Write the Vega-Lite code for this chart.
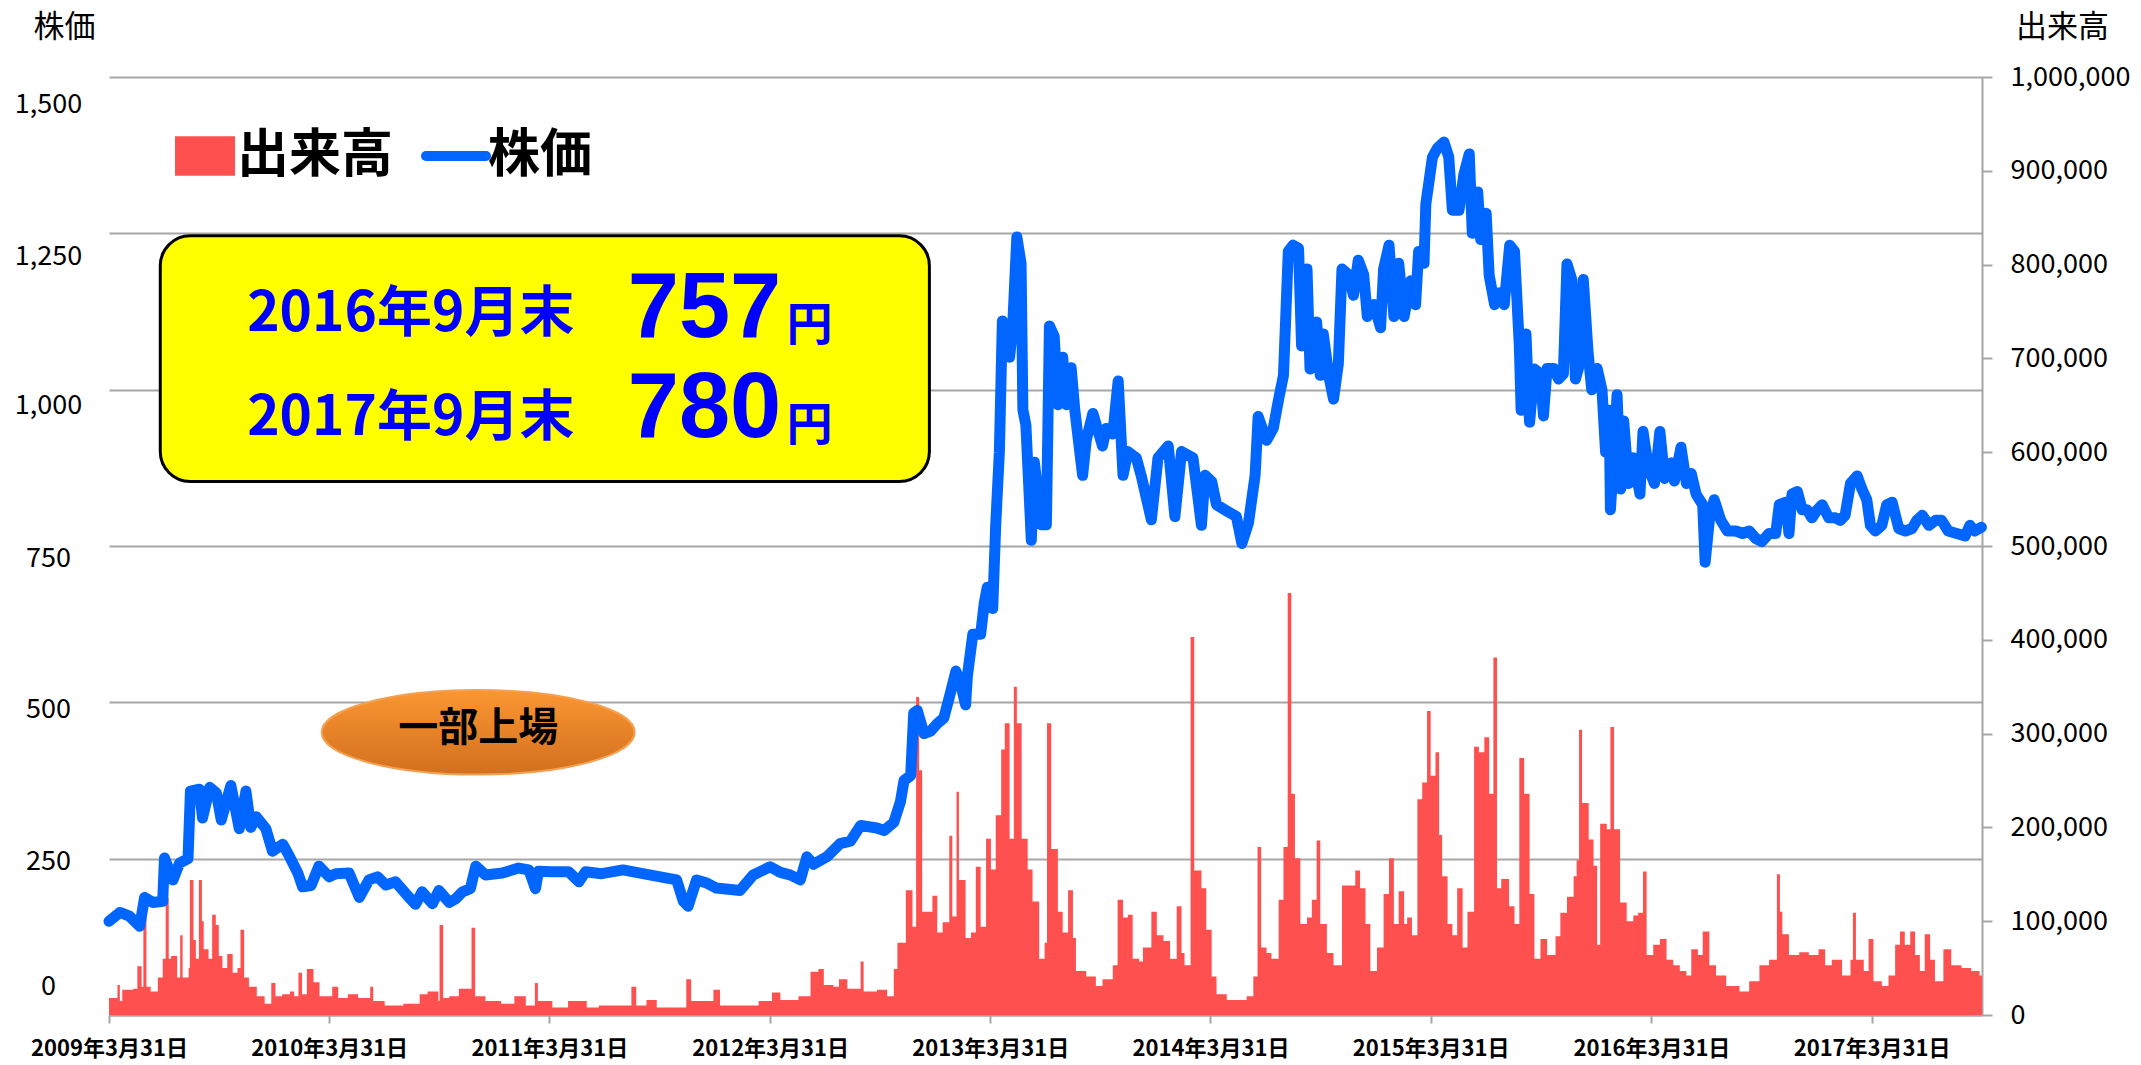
{
  "$schema": "https://vega.github.io/schema/vega-lite/v6.json",
  "width": 1873,
  "height": 938,
  "autosize": {"type": "none"},
  "padding": {"left": 109, "top": 77, "right": 159, "bottom": 50},
  "background": "white",
  "config": {"view": {"stroke": null}, "font": "Noto Sans CJK JP"},
  "datasets": {
    "price": [
      {"d":"2009-03-31","p":150},{"d":"2009-04-18","p":164},{"d":"2009-05-04","p":158},{"d":"2009-05-21","p":142},{"d":"2009-05-29","p":188},{"d":"2009-06-12","p":180},{"d":"2009-06-28","p":182},{"d":"2009-07-01","p":251},{"d":"2009-07-15","p":216},{"d":"2009-07-26","p":243},{"d":"2009-08-09","p":250},{"d":"2009-08-13","p":358},{"d":"2009-08-28","p":361},{"d":"2009-09-02","p":315},{"d":"2009-09-14","p":364},{"d":"2009-09-25","p":355},{"d":"2009-10-03","p":312},{"d":"2009-10-19","p":367},{"d":"2009-11-02","p":298},{"d":"2009-11-13","p":358},{"d":"2009-11-21","p":300},{"d":"2009-11-30","p":317},{"d":"2009-12-16","p":298},{"d":"2009-12-27","p":262},
      {"d":"2010-01-13","p":273},{"d":"2010-01-24","p":254},{"d":"2010-02-07","p":227},{"d":"2010-02-15","p":205},{"d":"2010-03-01","p":207},{"d":"2010-03-14","p":238},{"d":"2010-03-31","p":221},{"d":"2010-04-11","p":226},{"d":"2010-05-03","p":227},{"d":"2010-05-20","p":188},{"d":"2010-06-05","p":216},{"d":"2010-06-19","p":221},{"d":"2010-07-03","p":208},{"d":"2010-07-19","p":213},{"d":"2010-08-05","p":194},{"d":"2010-08-21","p":177},{"d":"2010-09-01","p":197},{"d":"2010-09-18","p":178},{"d":"2010-09-29","p":199},{"d":"2010-10-16","p":180},{"d":"2010-10-27","p":186},{"d":"2010-11-07","p":197},{"d":"2010-11-20","p":202},{"d":"2010-11-29","p":238},{"d":"2010-12-15","p":224},
      {"d":"2011-01-12","p":227},{"d":"2011-02-08","p":235},{"d":"2011-02-25","p":232},{"d":"2011-03-08","p":202},{"d":"2011-03-13","p":230},{"d":"2011-04-04","p":229},{"d":"2011-05-02","p":229},{"d":"2011-05-19","p":213},{"d":"2011-05-30","p":229},{"d":"2011-06-26","p":226},{"d":"2011-07-31","p":232},{"d":"2011-09-13","p":224},{"d":"2011-10-28","p":216},{"d":"2011-11-08","p":182},{"d":"2011-11-16","p":174},{"d":"2011-11-30","p":216},{"d":"2011-12-17","p":211},
      {"d":"2012-01-02","p":203},{"d":"2012-02-10","p":199},{"d":"2012-03-03","p":224},{"d":"2012-03-31","p":237},{"d":"2012-04-17","p":228},{"d":"2012-05-03","p":224},{"d":"2012-05-20","p":216},{"d":"2012-05-31","p":253},{"d":"2012-06-11","p":241},{"d":"2012-07-03","p":253},{"d":"2012-07-25","p":274},{"d":"2012-08-11","p":278},{"d":"2012-08-28","p":303},{"d":"2012-09-24","p":299},{"d":"2012-10-06","p":295},{"d":"2012-10-22","p":308},{"d":"2012-11-02","p":341},{"d":"2012-11-08","p":375},{"d":"2012-11-19","p":383},{"d":"2012-11-24","p":483},{"d":"2012-11-30","p":487},{"d":"2012-12-11","p":450},{"d":"2012-12-22","p":454},
      {"d":"2013-01-02","p":466},{"d":"2013-01-13","p":475},{"d":"2013-01-22","p":508},{"d":"2013-02-02","p":550},{"d":"2013-02-10","p":529},{"d":"2013-02-18","p":496},{"d":"2013-02-21","p":542},{"d":"2013-03-02","p":609},{"d":"2013-03-15","p":609},{"d":"2013-03-21","p":659},{"d":"2013-03-26","p":684},{"d":"2013-04-04","p":650},{"d":"2013-04-09","p":784},{"d":"2013-04-15","p":900},{"d":"2013-04-20","p":1110},{"d":"2013-05-02","p":1052},{"d":"2013-05-07","p":1100},{"d":"2013-05-14","p":1244},{"d":"2013-05-21","p":1202},{"d":"2013-05-24","p":968},{"d":"2013-05-29","p":943},{"d":"2013-06-07","p":759},{"d":"2013-06-12","p":884},{"d":"2013-06-18","p":834},{"d":"2013-06-23","p":784},{"d":"2013-07-02","p":784},{"d":"2013-07-07","p":1102},{"d":"2013-07-15","p":1085},{"d":"2013-07-21","p":976},{"d":"2013-07-29","p":1052},{"d":"2013-08-04","p":976},{"d":"2013-08-12","p":1035},{"d":"2013-08-18","p":968},{"d":"2013-08-31","p":863},{"d":"2013-09-06","p":919},{"d":"2013-09-17","p":962},{"d":"2013-10-03","p":910},{"d":"2013-10-09","p":938},{"d":"2013-10-20","p":929},{"d":"2013-10-29","p":1014},{"d":"2013-11-06","p":863},{"d":"2013-11-14","p":901},{"d":"2013-11-28","p":891},{"d":"2013-12-06","p":863},{"d":"2013-12-23","p":792},
      {"d":"2014-01-03","p":891},{"d":"2014-01-20","p":910},{"d":"2014-01-31","p":797},{"d":"2014-02-11","p":901},{"d":"2014-03-02","p":891},{"d":"2014-03-16","p":783},{"d":"2014-03-22","p":863},{"d":"2014-04-02","p":853},{"d":"2014-04-10","p":816},{"d":"2014-04-27","p":806},{"d":"2014-05-13","p":797},{"d":"2014-05-22","p":754},{"d":"2014-06-02","p":787},{"d":"2014-06-13","p":863},{"d":"2014-06-18","p":957},{"d":"2014-07-02","p":919},{"d":"2014-07-13","p":938},{"d":"2014-07-22","p":985},{"d":"2014-07-30","p":1023},{"d":"2014-08-07","p":1221},{"d":"2014-08-15","p":1231},{"d":"2014-08-24","p":1226},{"d":"2014-08-29","p":1070},{"d":"2014-09-07","p":1193},{"d":"2014-09-12","p":1033},{"d":"2014-09-23","p":1108},{"d":"2014-09-29","p":1023},{"d":"2014-10-04","p":1089},{"d":"2014-10-13","p":1023},{"d":"2014-10-21","p":985},{"d":"2014-10-29","p":1042},{"d":"2014-11-04","p":1193},{"d":"2014-11-15","p":1184},{"d":"2014-11-23","p":1151},{"d":"2014-12-01","p":1207},{"d":"2014-12-10","p":1184},{"d":"2014-12-16","p":1117},{"d":"2014-12-27","p":1136},
      {"d":"2015-01-07","p":1099},{"d":"2015-01-12","p":1193},{"d":"2015-01-21","p":1231},{"d":"2015-01-29","p":1117},{"d":"2015-02-06","p":1202},{"d":"2015-02-15","p":1117},{"d":"2015-02-26","p":1174},{"d":"2015-03-06","p":1136},{"d":"2015-03-11","p":1221},{"d":"2015-03-20","p":1202},{"d":"2015-03-23","p":1297},{"d":"2015-04-03","p":1372},{"d":"2015-04-11","p":1386},{"d":"2015-04-22","p":1396},{"d":"2015-04-30","p":1372},{"d":"2015-05-06","p":1287},{"d":"2015-05-17","p":1287},{"d":"2015-05-25","p":1344},{"d":"2015-06-03","p":1377},{"d":"2015-06-08","p":1250},{"d":"2015-06-17","p":1316},{"d":"2015-06-22","p":1240},{"d":"2015-07-01","p":1282},{"d":"2015-07-06","p":1183},{"d":"2015-07-15","p":1136},{"d":"2015-07-23","p":1155},{"d":"2015-07-31","p":1136},{"d":"2015-08-09","p":1231},{"d":"2015-08-17","p":1221},{"d":"2015-08-25","p":1070},{"d":"2015-08-28","p":967},{"d":"2015-09-05","p":1089},{"d":"2015-09-11","p":948},{"d":"2015-09-19","p":1033},{"d":"2015-09-29","p":1025},{"d":"2015-10-04","p":958},{"d":"2015-10-10","p":1034},{"d":"2015-10-21","p":1034},{"d":"2015-10-29","p":1017},{"d":"2015-11-06","p":1025},{"d":"2015-11-12","p":1201},{"d":"2015-11-20","p":1176},{"d":"2015-11-26","p":1017},{"d":"2015-12-01","p":1034},{"d":"2015-12-09","p":1176},{"d":"2015-12-17","p":1059},{"d":"2015-12-23","p":1000},
      {"d":"2016-01-01","p":1034},{"d":"2016-01-09","p":1000},{"d":"2016-01-15","p":900},{"d":"2016-01-21","p":967},{"d":"2016-01-23","p":808},{"d":"2016-01-29","p":900},{"d":"2016-02-03","p":992},{"d":"2016-02-09","p":841},{"d":"2016-02-14","p":950},{"d":"2016-02-22","p":850},{"d":"2016-03-01","p":891},{"d":"2016-03-12","p":833},{"d":"2016-03-17","p":933},{"d":"2016-03-26","p":875},{"d":"2016-04-05","p":850},{"d":"2016-04-14","p":933},{"d":"2016-04-22","p":858},{"d":"2016-05-03","p":883},{"d":"2016-05-08","p":854},{"d":"2016-05-19","p":908},{"d":"2016-05-28","p":850},{"d":"2016-06-05","p":866},{"d":"2016-06-13","p":833},{"d":"2016-06-24","p":816},{"d":"2016-06-28","p":724},{"d":"2016-07-05","p":791},{"d":"2016-07-13","p":824},{"d":"2016-07-24","p":791},{"d":"2016-08-04","p":774},{"d":"2016-08-18","p":774},{"d":"2016-08-29","p":770},{"d":"2016-09-09","p":774},{"d":"2016-09-20","p":762},{"d":"2016-09-30","p":757},{"d":"2016-10-12","p":770},{"d":"2016-10-23","p":770},{"d":"2016-10-29","p":816},{"d":"2016-11-09","p":820},{"d":"2016-11-14","p":770},{"d":"2016-11-19","p":833},{"d":"2016-11-28","p":837},{"d":"2016-12-06","p":808},{"d":"2016-12-14","p":808},{"d":"2016-12-22","p":795},{"d":"2016-12-31","p":808},
      {"d":"2017-01-08","p":816},{"d":"2017-01-19","p":795},{"d":"2017-01-30","p":795},{"d":"2017-02-07","p":791},{"d":"2017-02-15","p":799},{"d":"2017-02-24","p":850},{"d":"2017-03-07","p":862},{"d":"2017-03-15","p":841},{"d":"2017-03-23","p":824},{"d":"2017-03-29","p":783},{"d":"2017-04-06","p":774},{"d":"2017-04-17","p":783},{"d":"2017-04-25","p":816},{"d":"2017-05-04","p":820},{"d":"2017-05-15","p":778},{"d":"2017-05-26","p":774},{"d":"2017-06-06","p":778},{"d":"2017-06-14","p":791},{"d":"2017-06-23","p":799},{"d":"2017-07-04","p":783},{"d":"2017-07-15","p":791},{"d":"2017-07-25","p":791},{"d":"2017-08-05","p":774},{"d":"2017-08-19","p":770},{"d":"2017-09-02","p":766},{"d":"2017-09-10","p":783},{"d":"2017-09-18","p":774},{"d":"2017-09-29","p":780}
    ],
    "volume": [
      {"d":"2009-03-31","v":18000},{"d":"2009-04-14","v":32000},{"d":"2009-04-18","v":15000},{"d":"2009-04-22","v":27000},{"d":"2009-05-10","v":28000},{"d":"2009-05-17","v":52000},{"d":"2009-05-24","v":30000},{"d":"2009-05-27","v":110000},{"d":"2009-06-01","v":30000},{"d":"2009-06-08","v":25000},{"d":"2009-06-20","v":40000},{"d":"2009-06-28","v":60000},{"d":"2009-07-03","v":125000},{"d":"2009-07-08","v":60000},{"d":"2009-07-12","v":63000},{"d":"2009-07-22","v":40000},{"d":"2009-07-27","v":85000},{"d":"2009-07-31","v":40000},{"d":"2009-08-10","v":50000},{"d":"2009-08-12","v":144000},{"d":"2009-08-18","v":80000},{"d":"2009-08-22","v":60000},{"d":"2009-08-27","v":144000},{"d":"2009-09-01","v":100000},{"d":"2009-09-04","v":70000},{"d":"2009-09-12","v":60000},{"d":"2009-09-18","v":107000},{"d":"2009-09-24","v":96000},{"d":"2009-09-29","v":63000},{"d":"2009-10-05","v":50000},{"d":"2009-10-13","v":65000},{"d":"2009-10-22","v":45000},{"d":"2009-10-30","v":50000},{"d":"2009-11-04","v":91000},{"d":"2009-11-10","v":40000},{"d":"2009-11-18","v":30000},{"d":"2009-12-01","v":20000},{"d":"2009-12-14","v":12000},{"d":"2009-12-25","v":34000},
      {"d":"2010-01-01","v":20000},{"d":"2010-01-12","v":22000},{"d":"2010-01-25","v":25000},{"d":"2010-02-01","v":20000},{"d":"2010-02-08","v":45000},{"d":"2010-02-14","v":22000},{"d":"2010-02-22","v":49000},{"d":"2010-03-05","v":35000},{"d":"2010-03-15","v":20000},{"d":"2010-04-05","v":30000},{"d":"2010-04-15","v":18000},{"d":"2010-05-01","v":22000},{"d":"2010-05-18","v":18000},{"d":"2010-06-07","v":30000},{"d":"2010-06-12","v":15000},{"d":"2010-07-01","v":10000},{"d":"2010-08-01","v":12000},{"d":"2010-08-28","v":22000},{"d":"2010-09-10","v":25000},{"d":"2010-09-28","v":15000},{"d":"2010-09-30","v":96000},{"d":"2010-10-06","v":18000},{"d":"2010-10-16","v":20000},{"d":"2010-11-01","v":28000},{"d":"2010-11-22","v":93000},{"d":"2010-11-28","v":20000},{"d":"2010-12-15","v":15000},
      {"d":"2011-01-10","v":12000},{"d":"2011-02-01","v":20000},{"d":"2011-02-20","v":10000},{"d":"2011-03-07","v":34000},{"d":"2011-03-12","v":15000},{"d":"2011-04-05","v":8000},{"d":"2011-05-01","v":15000},{"d":"2011-06-01","v":8000},{"d":"2011-06-21","v":10000},{"d":"2011-08-14","v":30000},{"d":"2011-08-22","v":10000},{"d":"2011-09-08","v":16000},{"d":"2011-09-25","v":8000},{"d":"2011-11-13","v":38000},{"d":"2011-11-21","v":15000},{"d":"2011-12-28","v":27000},
      {"d":"2012-01-08","v":10000},{"d":"2012-03-12","v":15000},{"d":"2012-04-03","v":24000},{"d":"2012-04-17","v":16000},{"d":"2012-05-17","v":20000},{"d":"2012-06-06","v":46000},{"d":"2012-06-19","v":49000},{"d":"2012-06-28","v":32000},{"d":"2012-07-14","v":30000},{"d":"2012-07-23","v":38000},{"d":"2012-08-06","v":28000},{"d":"2012-08-28","v":57000},{"d":"2012-09-02","v":25000},{"d":"2012-09-24","v":27000},{"d":"2012-10-11","v":20000},{"d":"2012-10-22","v":49000},{"d":"2012-10-28","v":77000},{"d":"2012-11-11","v":133000},{"d":"2012-11-22","v":94000},{"d":"2012-11-28","v":339000},{"d":"2012-12-03","v":261000},{"d":"2012-12-08","v":110000},{"d":"2012-12-25","v":127000},
      {"d":"2013-01-02","v":88000},{"d":"2013-01-11","v":99000},{"d":"2013-01-22","v":191000},{"d":"2013-01-27","v":105000},{"d":"2013-02-03","v":238000},{"d":"2013-02-07","v":144000},{"d":"2013-02-18","v":82000},{"d":"2013-02-27","v":88000},{"d":"2013-03-07","v":158000},{"d":"2013-03-15","v":94000},{"d":"2013-03-24","v":188000},{"d":"2013-04-01","v":155000},{"d":"2013-04-09","v":213000},{"d":"2013-04-18","v":283000},{"d":"2013-04-24","v":311000},{"d":"2013-05-02","v":188000},{"d":"2013-05-09","v":350000},{"d":"2013-05-14","v":311000},{"d":"2013-05-22","v":188000},{"d":"2013-06-01","v":155000},{"d":"2013-06-09","v":121000},{"d":"2013-06-20","v":60000},{"d":"2013-06-29","v":77000},{"d":"2013-07-03","v":311000},{"d":"2013-07-10","v":177000},{"d":"2013-07-21","v":110000},{"d":"2013-07-29","v":88000},{"d":"2013-08-07","v":133000},{"d":"2013-08-15","v":82000},{"d":"2013-08-20","v":47000},{"d":"2013-09-06","v":41000},{"d":"2013-09-22","v":31000},{"d":"2013-10-03","v":38000},{"d":"2013-10-20","v":53000},{"d":"2013-10-28","v":123000},{"d":"2013-11-06","v":104000},{"d":"2013-11-14","v":107000},{"d":"2013-11-22","v":60000},{"d":"2013-12-03","v":57000},{"d":"2013-12-09","v":72000},{"d":"2013-12-23","v":110000},
      {"d":"2014-01-01","v":85000},{"d":"2014-01-12","v":79000},{"d":"2014-01-23","v":60000},{"d":"2014-02-03","v":116000},{"d":"2014-02-11","v":66000},{"d":"2014-02-16","v":53000},{"d":"2014-02-26","v":403000},{"d":"2014-03-04","v":154000},{"d":"2014-03-16","v":135000},{"d":"2014-03-24","v":91000},{"d":"2014-04-02","v":41000},{"d":"2014-04-10","v":22000},{"d":"2014-04-27","v":16000},{"d":"2014-05-30","v":20000},{"d":"2014-06-10","v":41000},{"d":"2014-06-17","v":179000},{"d":"2014-06-23","v":72000},{"d":"2014-07-02","v":66000},{"d":"2014-07-10","v":60000},{"d":"2014-07-22","v":123000},{"d":"2014-07-30","v":179000},{"d":"2014-08-06","v":450000},{"d":"2014-08-12","v":236000},{"d":"2014-08-18","v":167000},{"d":"2014-08-27","v":97000},{"d":"2014-09-07","v":104000},{"d":"2014-09-15","v":123000},{"d":"2014-09-23","v":186000},{"d":"2014-09-29","v":97000},{"d":"2014-10-10","v":66000},{"d":"2014-10-21","v":53000},{"d":"2014-11-04","v":138000},{"d":"2014-11-15","v":138000},{"d":"2014-11-26","v":154000},{"d":"2014-12-04","v":135000},{"d":"2014-12-13","v":97000},{"d":"2014-12-21","v":47000},
      {"d":"2015-01-01","v":72000},{"d":"2015-01-12","v":129000},{"d":"2015-01-21","v":167000},{"d":"2015-01-29","v":97000},{"d":"2015-02-06","v":132000},{"d":"2015-02-15","v":97000},{"d":"2015-02-20","v":104000},{"d":"2015-02-28","v":85000},{"d":"2015-03-09","v":230000},{"d":"2015-03-17","v":248000},{"d":"2015-03-25","v":324000},{"d":"2015-03-31","v":255000},{"d":"2015-04-08","v":280000},{"d":"2015-04-14","v":192000},{"d":"2015-04-19","v":148000},{"d":"2015-04-28","v":97000},{"d":"2015-05-06","v":85000},{"d":"2015-05-14","v":135000},{"d":"2015-05-23","v":72000},{"d":"2015-05-31","v":110000},{"d":"2015-06-11","v":286000},{"d":"2015-06-19","v":280000},{"d":"2015-06-28","v":296000},{"d":"2015-07-06","v":236000},{"d":"2015-07-13","v":381000},{"d":"2015-07-19","v":135000},{"d":"2015-07-26","v":145000},{"d":"2015-08-08","v":116000},{"d":"2015-08-17","v":97000},{"d":"2015-08-25","v":274000},{"d":"2015-09-02","v":236000},{"d":"2015-09-11","v":129000},{"d":"2015-09-19","v":60000},{"d":"2015-09-29","v":81000},{"d":"2015-10-10","v":64000},{"d":"2015-10-24","v":84000},{"d":"2015-11-01","v":109000},{"d":"2015-11-12","v":126000},{"d":"2015-11-23","v":148000},{"d":"2015-11-28","v":165000},{"d":"2015-12-02","v":304000},{"d":"2015-12-07","v":226000},{"d":"2015-12-18","v":187000},{"d":"2015-12-26","v":159000},
      {"d":"2016-01-01","v":75000},{"d":"2016-01-06","v":204000},{"d":"2016-01-17","v":198000},{"d":"2016-01-23","v":307000},{"d":"2016-01-29","v":198000},{"d":"2016-02-08","v":120000},{"d":"2016-02-19","v":100000},{"d":"2016-03-01","v":106000},{"d":"2016-03-09","v":109000},{"d":"2016-03-17","v":153000},{"d":"2016-03-23","v":64000},{"d":"2016-04-03","v":75000},{"d":"2016-04-14","v":81000},{"d":"2016-04-25","v":59000},{"d":"2016-05-06","v":53000},{"d":"2016-05-17","v":47000},{"d":"2016-05-28","v":42000},{"d":"2016-06-05","v":70000},{"d":"2016-06-16","v":64000},{"d":"2016-06-24","v":89000},{"d":"2016-07-05","v":53000},{"d":"2016-07-16","v":42000},{"d":"2016-08-02","v":31000},{"d":"2016-08-24","v":25000},{"d":"2016-09-09","v":36000},{"d":"2016-09-26","v":53000},{"d":"2016-10-12","v":59000},{"d":"2016-10-25","v":150000},{"d":"2016-10-30","v":110000},{"d":"2016-11-03","v":86000},{"d":"2016-11-14","v":64000},{"d":"2016-12-01","v":67000},{"d":"2016-12-17","v":64000},
      {"d":"2017-01-02","v":70000},{"d":"2017-01-13","v":53000},{"d":"2017-01-24","v":59000},{"d":"2017-02-10","v":42000},{"d":"2017-02-24","v":59000},{"d":"2017-02-28","v":109000},{"d":"2017-03-05","v":59000},{"d":"2017-03-18","v":47000},{"d":"2017-03-26","v":81000},{"d":"2017-04-03","v":36000},{"d":"2017-04-17","v":31000},{"d":"2017-04-28","v":42000},{"d":"2017-05-09","v":75000},{"d":"2017-05-17","v":89000},{"d":"2017-05-25","v":75000},{"d":"2017-06-03","v":89000},{"d":"2017-06-11","v":64000},{"d":"2017-06-19","v":47000},{"d":"2017-06-27","v":86000},{"d":"2017-07-06","v":59000},{"d":"2017-07-14","v":36000},{"d":"2017-07-28","v":70000},{"d":"2017-08-10","v":53000},{"d":"2017-08-27","v":50000},{"d":"2017-09-12","v":47000},{"d":"2017-09-26","v":42000},{"d":"2017-09-30","v":42000}
    ]
  },
  "layer": [
    {
      "data": {"name": "volume"},
      "mark": {"type": "area", "interpolate": "step-after"},
      "encoding": {
        "x": {
          "field": "d", "type": "temporal",
          "scale": {"type": "utc", "domain": [{"year": 2009, "month": 3, "date": 31, "utc": true}, {"year": 2017, "month": 9, "date": 30, "utc": true}]},
          "axis": {
            "title": null, "grid": false,
            "values": [
              {"year": 2009, "month": 3, "date": 31, "utc": true}, {"year": 2010, "month": 3, "date": 31, "utc": true}, {"year": 2011, "month": 3, "date": 31, "utc": true},
              {"year": 2012, "month": 3, "date": 31, "utc": true}, {"year": 2013, "month": 3, "date": 31, "utc": true}, {"year": 2014, "month": 3, "date": 31, "utc": true},
              {"year": 2015, "month": 3, "date": 31, "utc": true}, {"year": 2016, "month": 3, "date": 31, "utc": true}, {"year": 2017, "month": 3, "date": 31, "utc": true}
            ],
            "labelExpr": "utcFormat(datum.value, '%Y') + '年3月31日'",
            "labelFont": "Noto Sans CJK JP", "labelFontSize": 22, "labelFontWeight": "bold", "labelColor": "black",
            "labelPadding": 15, "labelFlush": false, "labelOverlap": false,
            "tickColor": "#A6A6A6", "tickSize": 8, "tickWidth": 2,
            "domainColor": "#A6A6A6", "domainWidth": 2
          }
        },
        "y": {
          "field": "v", "type": "quantitative",
          "scale": {"domain": [0, 1000000], "nice": false},
          "axis": {
            "orient": "right", "grid": false,
            "values": [0, 100000, 200000, 300000, 400000, 500000, 600000, 700000, 800000, 900000, 1000000],
            "format": ",.0f", "labelFont": "Noto Sans CJK JP", "labelFontSize": 27, "labelColor": "black",
            "labelAlign": "left", "labelPadding": 18,
            "tickColor": "#A6A6A6", "tickSize": 10, "tickWidth": 2,
            "domainColor": "#A6A6A6", "domainWidth": 2,
            "title": "出来高", "titleAngle": 0, "titleX": 80, "titleY": -50, "titleAlign": "center", "titleBaseline": "middle",
            "titleFont": "Noto Sans CJK JP", "titleFontSize": 31, "titleFontWeight": "normal", "titleColor": "black"
          }
        },
        "color": {
          "datum": "出来高", "type": "nominal",
          "scale": {"domain": ["出来高", "株価"], "range": ["#FF5050", "#0066FF"]},
          "legend": {
            "orient": "none", "legendX": 70, "legendY": 53, "direction": "horizontal", "title": null,
            "padding": 0, "labelFont": "Noto Sans CJK JP", "labelFontSize": 52, "labelFontWeight": "bold", "labelColor": "black",
            "labelLimit": 400, "labelOffset": 6, "columnPadding": 12, "symbolSize": 3600,
            "encode": {
              "symbols": {
                "update": {
                  "shape": {"signal": "datum.value === '株価' ? 'stroke' : 'M-1,-0.66H1V0.66H-1Z'"},
                  "fill": {"signal": "datum.value === '株価' ? 'transparent' : '#FF5050'"},
                  "stroke": {"signal": "datum.value === '株価' ? '#0066FF' : 'transparent'"},
                  "strokeWidth": {"signal": "datum.value === '株価' ? 10 : 0"},
                  "strokeCap": {"value": "round"},
                  "opacity": {"value": 1}
                }
              }
            }
          }
        }
      }
    },
    {
      "layer": [
        {
          "data": {"name": "price"},
          "mark": {"type": "line", "strokeWidth": 11, "strokeJoin": "round", "strokeCap": "round"},
          "encoding": {
            "x": {"field": "d", "type": "temporal"},
            "y": {
              "field": "p", "type": "quantitative",
              "scale": {"domain": [0, 1500], "nice": false},
              "axis": {
                "orient": "left", "values": [0, 250, 500, 750, 1000, 1250, 1500], "format": ",.0f",
                "grid": true, "gridColor": "#A6A6A6", "gridWidth": 2,
                "domain": false, "ticks": false, "tickSize": 0,
                "labelFont": "Noto Sans CJK JP", "labelFontSize": 27, "labelColor": "black",
                "labelAlign": "center", "labelPadding": 61,
                "labelOffset": {
                  "condition": [
                    {"test": "datum.value === 1500", "value": 27},
                    {"test": "datum.value === 1250", "value": 23},
                    {"test": "datum.value === 1000", "value": 16},
                    {"test": "datum.value === 750", "value": 12},
                    {"test": "datum.value === 500", "value": 7},
                    {"test": "datum.value === 250", "value": 3},
                    {"test": "datum.value === 0", "value": -29}
                  ],
                  "value": 0
                },
                "title": "株価", "titleAngle": 0, "titleX": -45, "titleY": -50, "titleAlign": "center", "titleBaseline": "middle",
                "titleFont": "Noto Sans CJK JP", "titleFontSize": 31, "titleFontWeight": "normal", "titleColor": "black"
              }
            },
            "color": {"datum": "株価", "type": "nominal"}
          }
        },
        {
          "data": {"values": [{}]},
          "mark": {"type": "rect", "fill": "#FFFF00", "stroke": "black", "strokeWidth": 3, "cornerRadius": 30},
          "encoding": {
            "x": {"datum": {"year": 2009, "month": 6, "date": 24, "utc": true}, "type": "temporal"},
            "x2": {"datum": {"year": 2012, "month": 12, "date": 20, "utc": true}},
            "y": {"datum": 1246, "type": "quantitative", "scale": {"domain": [0, 1500], "nice": false}},
            "y2": {"datum": 853}
          }
        },
        {
          "data": {"values": [{}]},
          "mark": {"type": "text", "text": "2016年9月末", "align": "left", "baseline": "alphabetic", "font": "Noto Sans CJK JP", "fontSize": 55, "fontWeight": "bold", "color": "#0000FF"},
          "encoding": {
            "x": {"datum": {"year": 2009, "month": 11, "date": 15, "utc": true}, "type": "temporal"},
            "y": {"datum": 1094, "type": "quantitative", "scale": {"domain": [0, 1500], "nice": false}}
          }
        },
        {
          "data": {"values": [{}]},
          "mark": {"type": "text", "text": "2017年9月末", "align": "left", "baseline": "alphabetic", "font": "Noto Sans CJK JP", "fontSize": 55, "fontWeight": "bold", "color": "#0000FF"},
          "encoding": {
            "x": {"datum": {"year": 2009, "month": 11, "date": 15, "utc": true}, "type": "temporal"},
            "y": {"datum": 928, "type": "quantitative", "scale": {"domain": [0, 1500], "nice": false}}
          }
        },
        {
          "data": {"values": [{}]},
          "mark": {"type": "text", "text": "757", "align": "left", "baseline": "alphabetic", "font": "Liberation Sans", "fontSize": 92, "fontWeight": "bold", "color": "#0000FF"},
          "encoding": {
            "x": {"datum": {"year": 2011, "month": 8, "date": 8, "utc": true}, "type": "temporal"},
            "y": {"datum": 1085, "type": "quantitative", "scale": {"domain": [0, 1500], "nice": false}}
          }
        },
        {
          "data": {"values": [{}]},
          "mark": {"type": "text", "text": "780", "align": "left", "baseline": "alphabetic", "font": "Liberation Sans", "fontSize": 92, "fontWeight": "bold", "color": "#0000FF"},
          "encoding": {
            "x": {"datum": {"year": 2011, "month": 8, "date": 8, "utc": true}, "type": "temporal"},
            "y": {"datum": 924, "type": "quantitative", "scale": {"domain": [0, 1500], "nice": false}}
          }
        },
        {
          "data": {"values": [{}]},
          "mark": {"type": "text", "text": "円", "align": "left", "baseline": "alphabetic", "font": "Noto Sans CJK JP", "fontSize": 46, "fontWeight": "bold", "color": "#0000FF"},
          "encoding": {
            "x": {"datum": {"year": 2012, "month": 4, "date": 27, "utc": true}, "type": "temporal"},
            "y": {"datum": 1080, "type": "quantitative", "scale": {"domain": [0, 1500], "nice": false}}
          }
        },
        {
          "data": {"values": [{}]},
          "mark": {"type": "text", "text": "円", "align": "left", "baseline": "alphabetic", "font": "Noto Sans CJK JP", "fontSize": 46, "fontWeight": "bold", "color": "#0000FF"},
          "encoding": {
            "x": {"datum": {"year": 2012, "month": 4, "date": 27, "utc": true}, "type": "temporal"},
            "y": {"datum": 919, "type": "quantitative", "scale": {"domain": [0, 1500], "nice": false}}
          }
        },
        {
          "data": {"values": [{}]},
          "mark": {
            "type": "point", "filled": true, "size": 97969, "opacity": 1,
            "shape": "M-1,0C-1,-0.149,-0.552,-0.27,0,-0.27C0.552,-0.27,1,-0.149,1,0C1,0.149,0.552,0.27,0,0.27C-0.552,0.27,-1,0.149,-1,0Z",
            "fill": {"gradient": "linear", "x1": 0, "y1": 0, "x2": 0, "y2": 1, "stops": [{"offset": 0, "color": "#FA9632"}, {"offset": 1, "color": "#D2701E"}]},
            "stroke": "#F5A050", "strokeWidth": 2
          },
          "encoding": {
            "x": {"datum": {"year": 2010, "month": 12, "date": 3, "utc": true}, "type": "temporal"},
            "y": {"datum": 452, "type": "quantitative", "scale": {"domain": [0, 1500], "nice": false}}
          }
        },
        {
          "data": {"values": [{}]},
          "mark": {"type": "text", "text": "一部上場", "align": "center", "baseline": "middle", "font": "Noto Sans CJK JP", "fontSize": 40, "fontWeight": "bold", "color": "black"},
          "encoding": {
            "x": {"datum": {"year": 2010, "month": 12, "date": 3, "utc": true}, "type": "temporal"},
            "y": {"datum": 457, "type": "quantitative", "scale": {"domain": [0, 1500], "nice": false}}
          }
        }
      ]
    }
  ],
  "resolve": {"scale": {"y": "independent"}}
}
